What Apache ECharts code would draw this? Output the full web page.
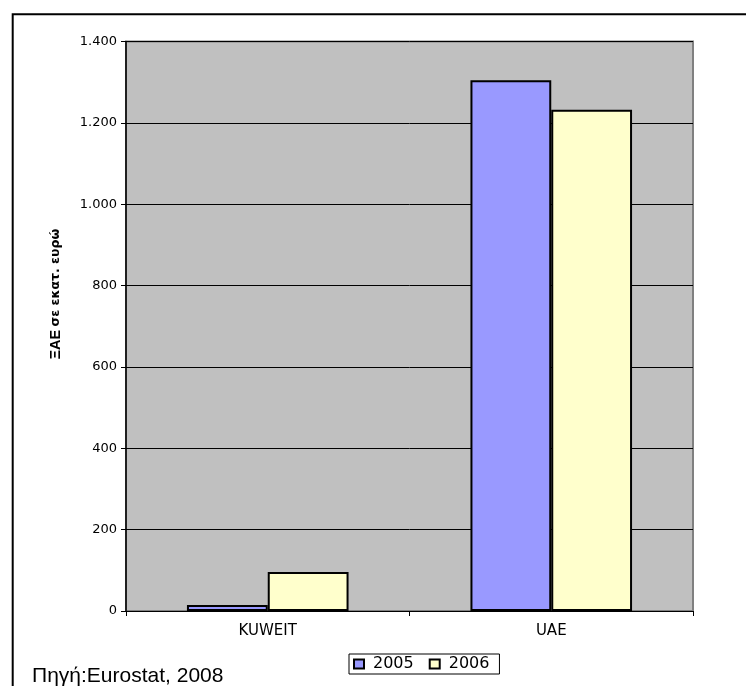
<!DOCTYPE html>
<html>
<head>
<meta charset="utf-8">
<script src="https://cdn.jsdelivr.net/npm/echarts@6/dist/echarts.min.js"></script>
<style>
  html, body { margin: 0; padding: 0; background: #fff; }
  #chart { width: 746px; height: 686px; }
</style>
</head>
<body>
<div id="chart"></div>
<script>
// Foreign direct investment by country, million euro
const countries = ['KUWEIT', 'UAE'];
const years = ['2005', '2006'];
const fdi2005 = [15, 1305];
const fdi2006 = [96, 1232];
const yTicks = [0, 200, 400, 600, 800, 1000, 1200, 1400];

const SANS = 'Liberation Sans, Arial, sans-serif';
const WIDE = 'DejaVu Sans, Verdana, sans-serif';

// Greek-style thousands separator (dot)
function fmt(v) {
  return String(v).replace(/\B(?=(\d{3})+(?!\d))/g, '.');
}

const chart = echarts.init(document.getElementById('chart'), null, { renderer: 'canvas' });

chart.setOption({
  animation: false,
  backgroundColor: '#ffffff',
  textStyle: { fontFamily: WIDE },
  grid: {
    left: 126, top: 41.5, right: 53, bottom: 75,
    show: true,
    backgroundColor: '#C0C0C0',
    borderColor: '#808080',
    borderWidth: 2
  },
  legend: {
    data: years,
    left: 349, top: 654,
    orient: 'horizontal',
    itemWidth: 10, itemHeight: 9, itemGap: 15,
    padding: [2, 10, 2, 4],
    borderColor: '#000', borderWidth: 1,
    icon: 'rect',
    textStyle: { fontFamily: WIDE, fontSize: 16, color: '#000', padding: [0, 0, 0, 4] }
  },
  xAxis: {
    type: 'category',
    data: countries,
    axisLine: { lineStyle: { color: '#000', width: 1 } },
    axisTick: { show: true, length: 5, inside: false, lineStyle: { color: '#000' } },
    axisLabel: { color: '#000', fontSize: 15, margin: 13, fontFamily: WIDE },
    splitLine: { show: false }
  },
  yAxis: {
    type: 'value',
    min: yTicks[0], max: yTicks[yTicks.length - 1], interval: 200,
    axisLine: { show: true, lineStyle: { color: '#000', width: 1.5 } },
    axisTick: { show: true, length: 5, inside: false, lineStyle: { color: '#000' } },
    axisLabel: { color: '#000', fontSize: 13, margin: 9, fontFamily: WIDE, formatter: fmt },
    splitLine: { show: true, lineStyle: { color: '#000', width: 1 } }
  },
  series: [
    {
      name: years[0], type: 'bar', data: fdi2005,
      barGap: '0%', barCategoryGap: '43%',
      itemStyle: { color: '#9999FF', borderColor: '#000', borderWidth: 2 }
    },
    {
      name: years[1], type: 'bar', data: fdi2006,
      barGap: '0%', barCategoryGap: '43%',
      itemStyle: { color: '#FFFFCC', borderColor: '#000', borderWidth: 2 }
    }
  ],
  graphic: [
    {
      type: 'rect', silent: true, z: 100,
      shape: { x: 12.7, y: 14.3, width: 900, height: 900 },
      style: { fill: 'none', stroke: '#000', lineWidth: 2 }
    },
    {
      type: 'text', z: 100,
      x: 56, y: 294, rotation: Math.PI / 2,
      style: {
        text: '{a|ΞΑΕ} {b|σε εκατ. ευρώ}',
        align: 'center', verticalAlign: 'middle',
        rich: {
          a: { fontFamily: SANS, fontSize: 14.5, fontWeight: 'bold', fill: '#000' },
          b: { fontFamily: WIDE, fontSize: 12.5, fontWeight: 'bold', fill: '#000' }
        }
      }
    },
    {
      type: 'text', z: 100,
      x: 32, y: 687,
      style: {
        text: 'Πηγή:Eurostat, 2008',
        fontFamily: SANS, fontSize: 21, fill: '#000',
        align: 'left', verticalAlign: 'bottom'
      }
    }
  ]
});
</script>
</body>
</html>
